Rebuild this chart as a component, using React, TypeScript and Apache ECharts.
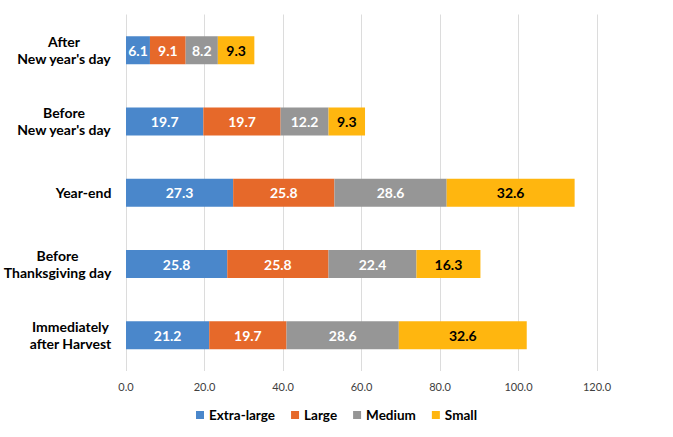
import React, { useEffect, useRef } from "react";
import * as echarts from "echarts";

const categories = [
  "Immediately\nafter Harvest",
  "Before\nThanksgiving day",
  "Year-end",
  "Before\nNew year's day",
  "After\nNew year's day",
];
const seriesNames = ["Extra-large", "Large", "Medium", "Small"];
const extraLarge = [21.2, 25.8, 27.3, 19.7, 6.1];
const large = [19.7, 25.8, 25.8, 19.7, 9.1];
const medium = [28.6, 22.4, 28.6, 12.2, 8.2];
const small = [32.6, 16.3, 32.6, 9.3, 9.3];
const colors = ["#4A87CB", "#E6692A", "#969696", "#FFB60F"];
const labelColors = ["#ffffff", "#ffffff", "#ffffff", "#000000"];

const FONT = "Lato, 'Open Sans', sans-serif";

export default function App() {
  const ref = useRef<HTMLDivElement>(null);
  useEffect(() => {
    if (!ref.current) return;
    const chart = echarts.init(ref.current, null, { renderer: "svg" });
    const canvas = document.createElement("canvas");
    const ctx = canvas.getContext("2d")!;
    ctx.font = "bold 14px Lato";
    const rich: Record<string, any> = {};
    categories.forEach((c, i) => {
      const w = Math.max(...c.split("\n").map((l) => ctx.measureText(l).width));
      rich["r" + i] = {
        width: Math.ceil(w) + 1,
        align: "center",
        fontFamily: FONT,
        fontSize: 14,
        fontWeight: "bold",
        color: "#000",
        lineHeight: 17,
      };
    });
    const data = [extraLarge, large, medium, small];
    chart.setOption({
      animation: false,
      textStyle: { fontFamily: FONT },
      color: colors,
      grid: { left: 125.5, right: 76, top: 14.5, bottom: 66, containLabel: false },
      legend: {
        bottom: 10,
        left: "center",
        itemWidth: 8,
        itemHeight: 8,
        itemGap: 16,
        icon: "rect",
        textStyle: { fontFamily: FONT, fontSize: 13.5, fontWeight: "bold", color: "#000" },
        data: seriesNames,
      },
      xAxis: {
        type: "value",
        min: 0,
        max: 120,
        interval: 20,
        axisLine: { show: false },
        axisTick: { show: false },
        splitLine: { show: true, lineStyle: { color: "#DCDCDC", width: 1 } },
        axisLabel: {
          formatter: (v: number) => v.toFixed(1),
          color: "#404040",
          fontSize: 11,
          fontFamily: FONT,
          margin: 10,
        },
      },
      yAxis: {
        type: "category",
        data: categories,
        axisLine: { show: false },
        axisTick: { show: false },
        axisLabel: {
          margin: 14,
          align: "right",
          formatter: (v: string, i: number) =>
            v
              .split("\n")
              .map((l) => `{r${i}|${l}}`)
              .join("\n"),
          rich,
        },
      },
      series: seriesNames.map((name, si) => ({
        name,
        type: "bar",
        stack: "total",
        barWidth: 28,
        data: data[si],
        itemStyle: { color: colors[si] },
        label: {
          show: true,
          position: "inside",
          formatter: (p: any) => Number(p.value).toFixed(1),
          color: labelColors[si],
          fontFamily: FONT,
          fontSize: 14,
          fontWeight: "bold",
        },
      })),
    });
    return () => chart.dispose();
  }, []);
  return (
    <div
      ref={ref}
      style={{ position: "absolute", left: 0, top: 0, width: 673, height: 437 }}
    />
  );
}
